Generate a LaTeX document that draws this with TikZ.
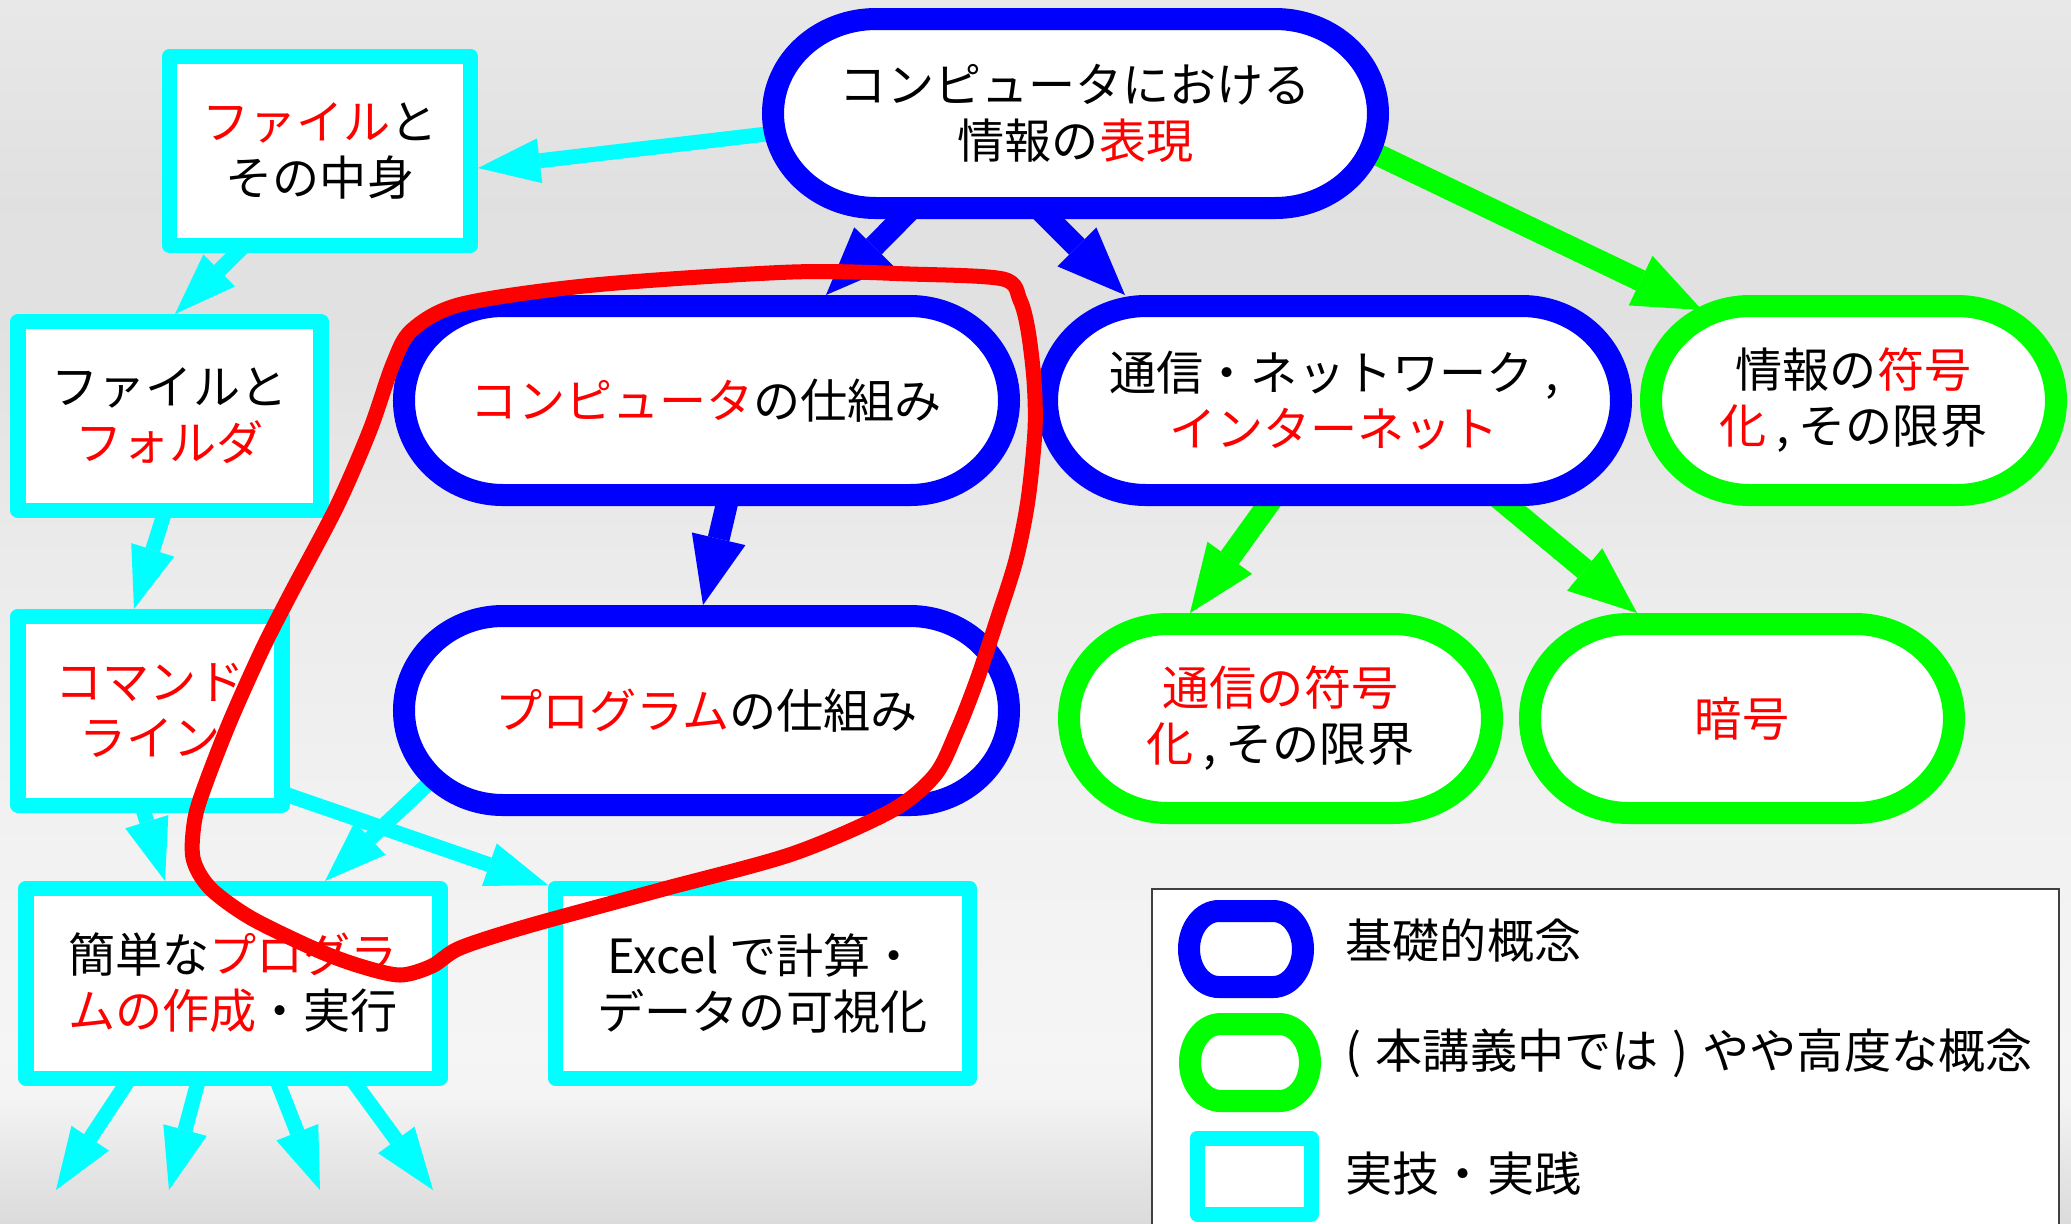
\documentclass[tikz,border=0pt]{standalone}
\usepackage{fontspec}
\setmainfont{Noto Sans CJK JP}
\usetikzlibrary{arrows.meta,calc}
\definecolor{cB}{RGB}{0,0,255}
\definecolor{cG}{RGB}{0,255,0}
\definecolor{cC}{RGB}{0,255,255}
\definecolor{cR}{RGB}{255,0,0}
\pgfdeclarelayer{bgl}
\pgfdeclarelayer{arrl}
\pgfdeclarelayer{borderl}
\pgfsetlayers{bgl,arrl,borderl,main}
\pgfdeclareverticalshading{bgshade}{100bp}{rgb(0bp)=(0.86,0.86,0.86); rgb(25bp)=(0.86,0.86,0.86); rgb(27.6bp)=(0.905,0.905,0.905); rgb(30bp)=(0.955,0.955,0.955); rgb(32bp)=(0.96,0.96,0.96); rgb(42.3bp)=(0.945,0.945,0.945); rgb(52.5bp)=(0.92,0.92,0.92); rgb(60.7bp)=(0.885,0.885,0.885); rgb(66.8bp)=(0.88,0.88,0.88); rgb(75bp)=(0.91,0.91,0.91); rgb(100bp)=(0.91,0.91,0.91)}
\newcommand\redt[1]{\textcolor{cR}{#1}}
\tikzset{
  txt/.style={font=\fontsize{13.4}{15.9}\selectfont, align=center, inner sep=0pt, text=black},
  carr/.style={color=cC, line width=0.15cm, -{Triangle[length=0.62cm,width=0.45cm,line width=0pt]}},
  barr/.style={color=cB, line width=0.22cm, -{Triangle[length=0.68cm,width=0.55cm,line width=0pt]}},
  garr/.style={color=cG, line width=0.22cm, -{Triangle[length=0.68cm,width=0.55cm,line width=0pt]}},
  redloop/.style={draw=cR, line width=0.15cm, line join=round}
}
% name, cx, cy, w, h, rx, colour, text
\newcommand\stadnode[8]{%
  \begin{pgfonlayer}{borderl}
  \draw[line width=0.22cm,draw=#7,fill=white]
    ({#2-#4/2+#6},{#3-#5/2}) -- ({#2+#4/2-#6},{#3-#5/2})
    arc[start angle=-90,end angle=90,x radius=#6,y radius={#5/2}]
    -- ({#2-#4/2+#6},{#3+#5/2})
    arc[start angle=90,end angle=270,x radius=#6,y radius={#5/2}] -- cycle;
  \end{pgfonlayer}
  \node[txt,minimum width={#4*0.01cm},minimum height={#5*0.01cm}] (#1) at (#2,#3) {#8};
}
% name, cx, cy, w, h, text
\newcommand\rectnode[6]{%
  \begin{pgfonlayer}{borderl}
  \draw[line width=0.15cm,draw=cC,fill=white,line join=round]
    ({#2-#4/2},{#3-#5/2}) rectangle ({#2+#4/2},{#3+#5/2});
  \end{pgfonlayer}
  \node[txt,minimum width={#4*0.01cm},minimum height={#5*0.01cm}] (#1) at (#2,#3) {#6};
}
\begin{document}
\begin{tikzpicture}[x=0.01cm,y=-0.01cm]
\useasboundingbox (0,0) rectangle (2071,1223);
\begin{pgfonlayer}{bgl}
  \shade[shading=bgshade] (0,0) rectangle (2071,1223);
\end{pgfonlayer}

% main nodes
\stadnode{A}{1075.5}{113.5}{605}{189}{103}{cB}{コンピュータにおける\\情報の\redt{表現}}
\rectnode{B}{320}{151}{301}{189}{\redt{ファイル}と\\その中身}
\rectnode{C}{169.5}{416}{303}{189}{ファイルと\\\redt{フォルダ}}
\rectnode{D}{150}{710.5}{264}{189}{\redt{コマンド}\\\redt{ライン}}
\rectnode{E}{233}{983}{414}{190}{簡単な\redt{プログラ}\\\redt{ムの作成}・実行}
\rectnode{F}{762.5}{983}{414}{190}{Excel で計算・\\データの可視化}
\stadnode{G}{706.5}{400.5}{605}{189}{99}{cB}{\redt{コンピュータ}の仕組み}
\stadnode{H}{706.5}{710.5}{605}{189}{99}{cB}{\redt{プログラム}の仕組み}
\stadnode{I}{1334}{400.5}{574}{189}{99}{cB}{通信・ネットワーク\hspace{0.25em},\\\redt{インターネット}}
\stadnode{J}{1853.5}{400.5}{405}{189}{99}{cG}{情報の\redt{符号}\\\redt{化}\hspace{0.2em},\hspace{0.2em}その限界}
\stadnode{K}{1280.5}{718.5}{423}{189}{99}{cG}{\redt{通信の符号}\\\redt{化}\hspace{0.2em},\hspace{0.2em}その限界}
\stadnode{L}{1742}{718.5}{424}{189}{99}{cG}{\redt{暗号}}

% free arrow ends
\coordinate (t1) at (56,1190);
\coordinate (t2) at (169,1190);
\coordinate (t3) at (320,1190);
\coordinate (t4) at (433,1190);

% legend
\begin{pgfonlayer}{arrl}
  \draw[draw=black!75,line width=0.02cm,fill=white] (1152,1240) -- (1152,888.5) -- (2059,888.5) -- (2059,1240);
\end{pgfonlayer}
\stadnode{lb}{1246}{949}{114}{76}{30}{cB}{}
\stadnode{lg}{1250}{1062.5}{120}{77}{31}{cG}{}
\rectnode{lc}{1254}{1176}{114}{76}{}
\node[txt,anchor=west] (lbt) at (1345,940) {基礎的概念};
\node[txt,anchor=west] (lgt) at (1345,1053) {(\hspace{0.3em}本講義中では\hspace{0.3em})\hspace{0.3em}やや高度な概念};
\node[txt,anchor=west] (lct) at (1345,1174) {実技・実践};

% connectors
\begin{pgfonlayer}{arrl}
  \draw[carr] ($(A.center)+(-300,19.5)$) -- ($(B.center)+(158,17)$);
  \draw[carr] ($(B.center)+(-76,95)$) -- ($(C.center)+(5.5,-102)$);
  \draw[carr] ($(C.center)+(-4.5,95)$) -- ($(D.center)+(-16,-101.5)$);
  \draw[carr] ($(D.center)+(-8,95.5)$) -- ($(E.center)+(-68,-102)$);
  \draw[carr] ($(D.center)+(132,82.5)$) -- ($(F.center)+(-214.5,-98)$);
  \draw[carr] ($(H.center)+(-276,71)$) -- ($(E.center)+(92,-102)$);
  \draw[carr] ($(E.center)+(-103,95)$) -- (t1);
  \draw[carr] ($(E.center)+(-34,95)$) -- (t2);
  \draw[carr] ($(E.center)+(43,95)$) -- (t3);
  \draw[carr] ($(E.center)+(118,95)$) -- (t4);
  \draw[barr] ($(A.center)+(-163.5,94.5)$) -- ($(G.center)+(119.5,-105.5)$);
  \draw[barr] ($(A.center)+(-37.5,94.5)$) -- ($(I.center)+(-209,-105.5)$);
  \draw[garr] ($(A.center)+(296.5,38.5)$) -- ($(J.center)+(-151.5,-90.5)$);
  \draw[barr] ($(G.center)+(22.5,94.5)$) -- ($(H.center)+(-3.5,-105.5)$);
  \draw[garr] ($(I.center)+(-59,94.5)$) -- ($(K.center)+(-90.5,-105.5)$);
  \draw[garr] ($(I.center)+(161,94.5)$) -- ($(L.center)+(-105,-105.5)$);
\end{pgfonlayer}

% red freehand loop
\draw[redloop] plot[smooth cycle, tension=0.5] coordinates {
  (1003,279) (1020,300) (1028,330) (1034,380) (1035,430) (1028,500) (1016,560)
  (997,620) (977,680) (957,731) (935,775) (891,811) (792,854) (660,890) (528,926)
  (460,948) (432,966) (400,975) (360,966) (317,950) (251,918) (210,888) (193,858)
  (195,818) (207,780) (231,719) (262,650) (290,595) (337,506) (370,430) (393,364)
  (412,330) (462,304) (594,285) (792,272) (910,274)};
\end{tikzpicture}
\end{document}
